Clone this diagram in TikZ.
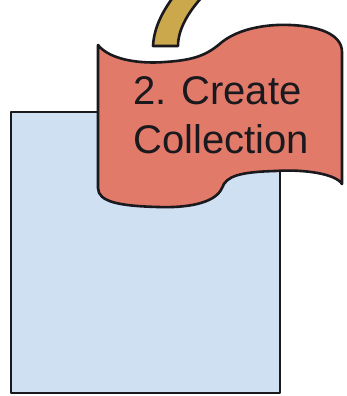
\documentclass[tikz,border=0pt]{standalone}
\usepackage{fontspec}
\setmainfont{Liberation Sans}
\definecolor{boxblue}{RGB}{207,224,242}
\definecolor{flagred}{RGB}{226,122,106}
\definecolor{gold}{RGB}{204,168,76}
\definecolor{outl}{RGB}{25,25,30}
\tikzset{
  outline/.style={draw=outl, line width=2.6pt, line join=round},
  lbl/.style={anchor=base west, inner sep=0pt, text=outl, font=\fontsize{40}{49}\selectfont}
}
\begin{document}
\begin{tikzpicture}[x=1pt,y=-1pt]
\useasboundingbox (0,0) rectangle (346,396);
\clip (0,0) rectangle (346,396);
% blue box
\draw[outline, fill=boxblue] (11,112) rectangle (280,393);
% gold arc
\draw[outline, fill=gold] (153,46) .. controls (154,28) and (162,12) .. (174,-4)
  -- (203,-4) .. controls (190,10) and (178,28) .. (178,46) -- cycle;
% flag
\draw[outline, fill=flagred]
  (98,45) .. controls (110,60) and (140,64) .. (165,62)
  .. controls (195,60) and (207,55) .. (222,42)
  .. controls (240,28) and (268,24) .. (290,25)
  .. controls (318,26) and (342,34) .. (342,52)
  -- (342,184)
  .. controls (336,174) and (305,169) .. (275,171)
  .. controls (240,172) and (226,176) .. (222,188)
  .. controls (215,204) and (185,208) .. (158,207)
  .. controls (120,206) and (98,202) .. (98,188)
  -- cycle;
\node[lbl] (t1) at (133,104) {2. Create};
\node[lbl] (t2) at (133,153) {Collection};
\end{tikzpicture}
\end{document}
